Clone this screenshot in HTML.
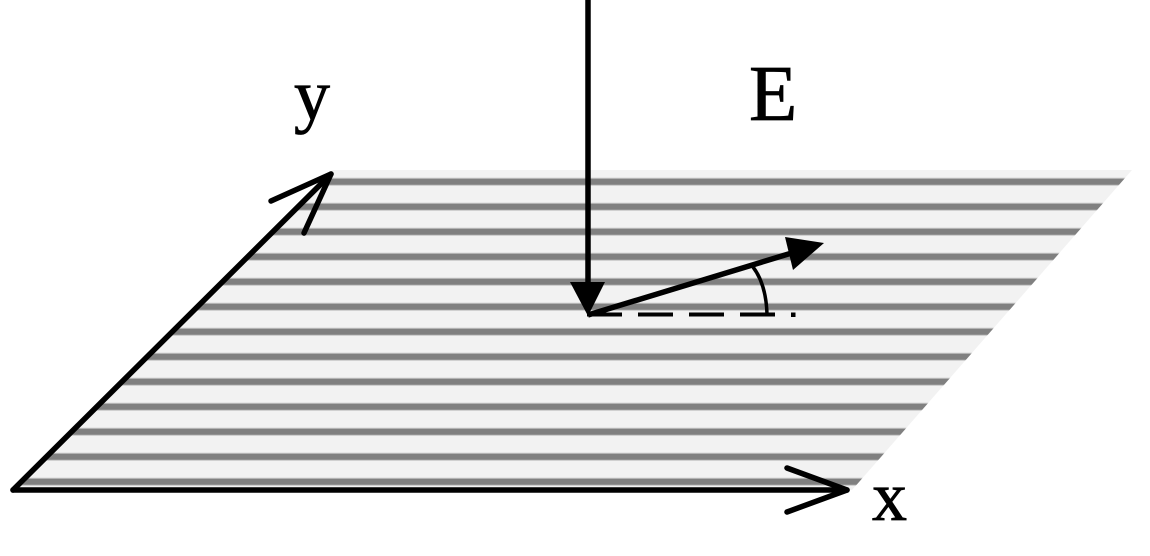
<!DOCTYPE html>
<html>
<head>
<meta charset="utf-8">
<style>
  html, body { margin: 0; padding: 0; background: #ffffff; }
  body { width: 1150px; height: 556px; overflow: hidden; }
  svg { display: block; }
  text { font-family: "Liberation Serif", serif; fill: #000; stroke: #000; stroke-width: 0.8; }
</style>
</head>
<body>
<svg width="1150" height="556" viewBox="0 0 1150 556" xmlns="http://www.w3.org/2000/svg">
  <defs>
    <clipPath id="plane">
      <polygon points="333,170 1132,170 852,490 13,490"/>
    </clipPath>
  </defs>

  <!-- plane fill -->
  <polygon points="333,170 1132,170 852,490 13,490" fill="#f2f2f2"/>

  <!-- stripes -->
  <g clip-path="url(#plane)">
    <g stroke="#c4c4c4" stroke-width="8">
      <line x1="0" y1="181.7" x2="1150" y2="181.7"/>
      <line x1="0" y1="206.7" x2="1150" y2="206.7"/>
      <line x1="0" y1="231.7" x2="1150" y2="231.7"/>
      <line x1="0" y1="256.7" x2="1150" y2="256.7"/>
      <line x1="0" y1="281.7" x2="1150" y2="281.7"/>
      <line x1="0" y1="306.7" x2="1150" y2="306.7"/>
      <line x1="0" y1="331.7" x2="1150" y2="331.7"/>
      <line x1="0" y1="356.7" x2="1150" y2="356.7"/>
      <line x1="0" y1="381.7" x2="1150" y2="381.7"/>
      <line x1="0" y1="406.7" x2="1150" y2="406.7"/>
      <line x1="0" y1="431.7" x2="1150" y2="431.7"/>
      <line x1="0" y1="456.7" x2="1150" y2="456.7"/>
      <line x1="0" y1="481.7" x2="1150" y2="481.7"/>
    </g>
    <g stroke="#808080" stroke-width="6">
      <line x1="0" y1="181.7" x2="1150" y2="181.7"/>
      <line x1="0" y1="206.7" x2="1150" y2="206.7"/>
      <line x1="0" y1="231.7" x2="1150" y2="231.7"/>
      <line x1="0" y1="256.7" x2="1150" y2="256.7"/>
      <line x1="0" y1="281.7" x2="1150" y2="281.7"/>
      <line x1="0" y1="306.7" x2="1150" y2="306.7"/>
      <line x1="0" y1="331.7" x2="1150" y2="331.7"/>
      <line x1="0" y1="356.7" x2="1150" y2="356.7"/>
      <line x1="0" y1="381.7" x2="1150" y2="381.7"/>
      <line x1="0" y1="406.7" x2="1150" y2="406.7"/>
      <line x1="0" y1="431.7" x2="1150" y2="431.7"/>
      <line x1="0" y1="456.7" x2="1150" y2="456.7"/>
      <line x1="0" y1="481.7" x2="1150" y2="481.7"/>
    </g>
  </g>

  <!-- axes -->
  <g stroke="#000" stroke-width="5.5" fill="none" stroke-linecap="round" stroke-linejoin="round">
    <!-- y axis -->
    <line x1="13" y1="490" x2="331" y2="174"/>
    <polyline points="271,201 331,174 304,233"/>
    <!-- x axis -->
    <line x1="13" y1="490" x2="847" y2="490"/>
    <polyline points="787,468 847,490 787,512"/>
  </g>

  <!-- vertical incident arrow -->
  <line x1="588" y1="0" x2="588" y2="285" stroke="#000" stroke-width="5.5"/>
  <polygon points="570,282 605,282 588,316" fill="#000"/>

  <!-- slanted E arrow -->
  <line x1="588" y1="315" x2="795" y2="252" stroke="#000" stroke-width="5.5"/>
  <polygon points="824,243 785,237 793,270" fill="#000"/>

  <!-- dashed reference line -->
  <line x1="587" y1="314.5" x2="781" y2="314.5" stroke="#000" stroke-width="4" stroke-dasharray="35,16"/>
  <rect x="791" y="312.5" width="4.5" height="4.5" fill="#000"/>

  <!-- angle arc -->
  <path d="M 753,267 Q 766,284 767,314" stroke="#000" stroke-width="3.5" fill="none"/>

  <!-- labels -->
  <text x="294" y="119" font-size="72">y</text>
  <text x="749" y="120" font-size="79">E</text>
  <text x="872" y="520" font-size="70">x</text>
</svg>
</body>
</html>
